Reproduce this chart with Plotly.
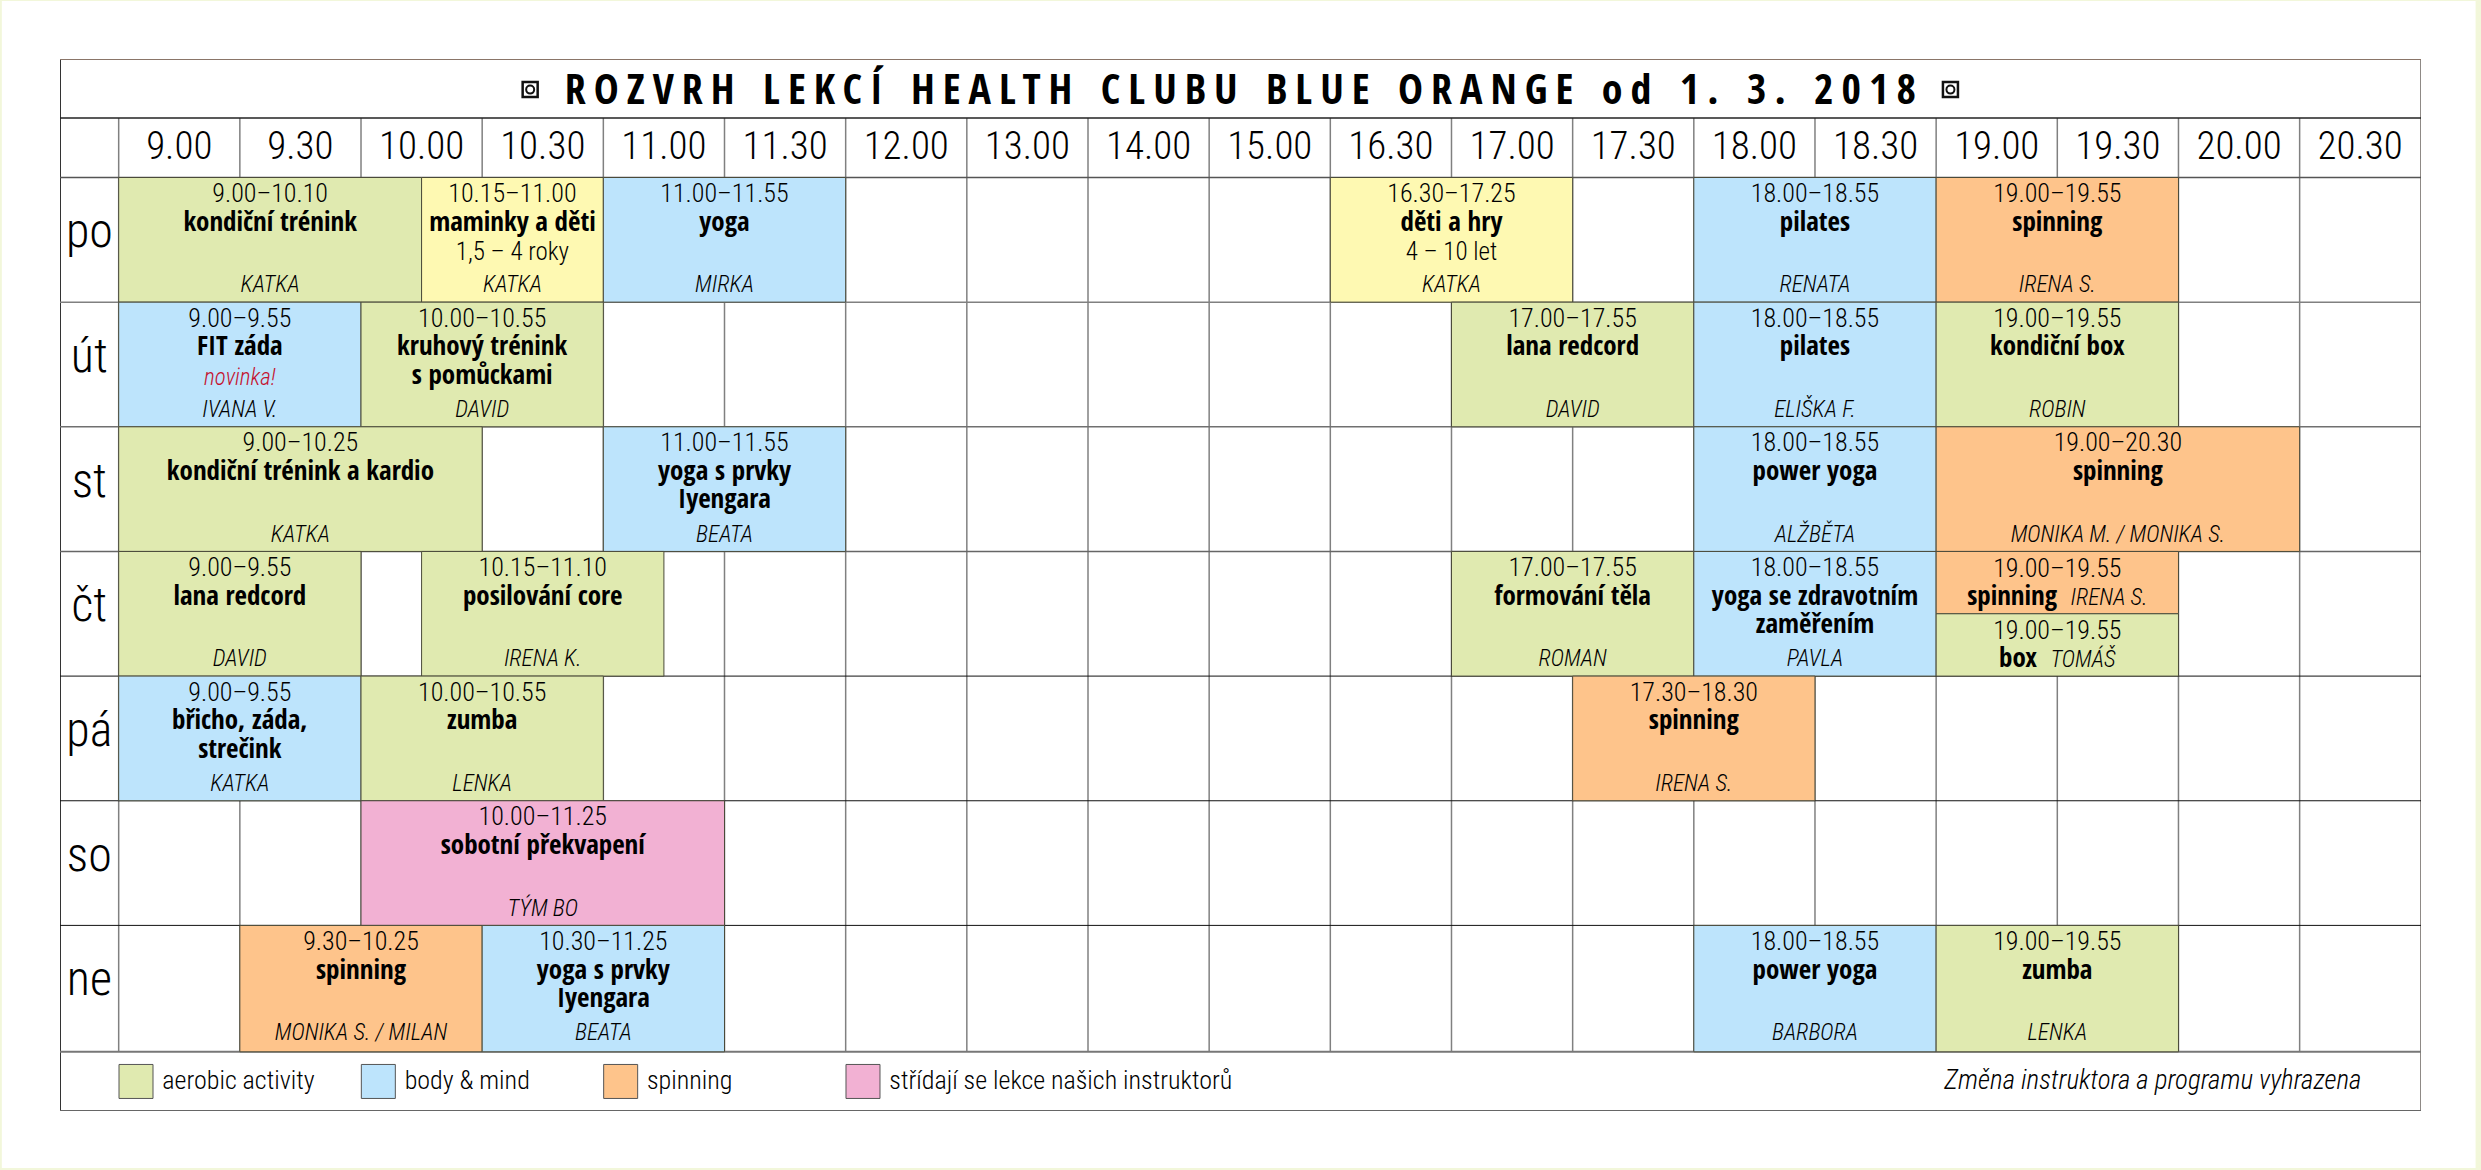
import plotly.graph_objects as go

# rozvrh: sloupce jsou casove sloty, ne linearni cas
title = 'ROZVRH LEKCÍ HEALTH CLUBU BLUE ORANGE od 1. 3. 2018'
slots = ['9.00', '9.30', '10.00', '10.30', '11.00', '11.30', '12.00', '13.00', '14.00', '15.00',
         '16.30', '17.00', '17.30', '18.00', '18.30', '19.00', '19.30', '20.00', '20.30']
days = ['po', 'út', 'st', 'čt', 'pá', 'so', 'ne']

lesson_day = [0, 0, 0, 0, 0, 0,
              1, 1, 1, 1, 1,
              2, 2, 2, 2,
              3, 3, 3, 3,
              4, 4, 4,
              5,
              6, 6, 6, 6]
lesson_start = [0, 2.5, 4, 10, 13, 15,
                0, 2, 11, 13, 15,
                0, 4, 13, 15,
                0, 2.5, 11, 13,
                0, 2, 12,
                2,
                1, 3, 13, 15]
lesson_span = [2.5, 1.5, 2, 2, 2, 2,
               2, 2, 2, 2, 2,
               3, 2, 2, 3,
               2, 2, 2, 2,
               2, 2, 2,
               3,
               2, 2, 2, 2]
lesson_kind = ['aerobic', 'kids', 'mind', 'kids', 'mind', 'spin',
               'mind', 'aerobic', 'aerobic', 'mind', 'aerobic',
               'aerobic', 'mind', 'mind', 'spin',
               'aerobic', 'aerobic', 'aerobic', 'mind',
               'mind', 'aerobic', 'spin',
               'team',
               'spin', 'mind', 'mind', 'aerobic']
lesson_time = ['9.00–10.10', '10.15–11.00', '11.00–11.55', '16.30–17.25', '18.00–18.55', '19.00–19.55',
               '9.00–9.55', '10.00–10.55', '17.00–17.55', '18.00–18.55', '19.00–19.55',
               '9.00–10.25', '11.00–11.55', '18.00–18.55', '19.00–20.30',
               '9.00–9.55', '10.15–11.10', '17.00–17.55', '18.00–18.55',
               '9.00–9.55', '10.00–10.55', '17.30–18.30',
               '10.00–11.25',
               '9.30–10.25', '10.30–11.25', '18.00–18.55', '19.00–19.55']
lesson_name = ['kondiční trénink', 'maminky a děti', 'yoga', 'děti a hry', 'pilates', 'spinning',
               'FIT záda', 'kruhový trénink', 'lana redcord', 'pilates', 'kondiční box',
               'kondiční trénink a kardio', 'yoga s prvky', 'power yoga', 'spinning',
               'lana redcord', 'posilování core', 'formování těla', 'yoga se zdravotním',
               'břicho, záda,', 'zumba', 'spinning',
               'sobotní překvapení',
               'spinning', 'yoga s prvky', 'power yoga', 'zumba']
lesson_name2 = ['', '', '', '', '', '',
                '', 's pomůckami', '', '', '',
                '', 'Iyengara', '', '',
                '', '', '', 'zaměřením',
                'strečink', '', '',
                '',
                '', 'Iyengara', '', '']
lesson_note = ['', '1,5 – 4 roky', '', '4 – 10 let', '', '',
               '', '', '', '', '',
               '', '', '', '',
               '', '', '', '',
               '', '', '',
               '',
               '', '', '', '']
lesson_coach = ['KATKA', 'KATKA', 'MIRKA', 'KATKA', 'RENATA', 'IRENA S.',
                'IVANA V.', 'DAVID', 'DAVID', 'ELIŠKA F.', 'ROBIN',
                'KATKA', 'BEATA', 'ALŽBĚTA', 'MONIKA M. / MONIKA S.',
                'DAVID', 'IRENA K.', 'ROMAN', 'PAVLA',
                'KATKA', 'LENKA', 'IRENA S.',
                'TÝM BO',
                'MONIKA S. / MILAN', 'BEATA', 'BARBORA', 'LENKA']

# ctvrtek 19.00 - dve lekce nad sebou v jednom slotu
half_day = [3, 3]
half_part = [0, 1]
half_start = [15, 15]
half_span = [2, 2]
half_kind = ['spin', 'aerobic']
half_time = ['19.00–19.55', '19.00–19.55']
half_name = ['spinning', 'box']
half_coach = ['IRENA S.', 'TOMÁŠ']

legend_labels = ['aerobic activity', 'body & mind', 'spinning', 'střídají se lekce našich instruktorů']
legend_kinds = ['aerobic', 'mind', 'spin', 'team']
legend_slots = [0, 2, 4, 6]
legend_note = 'Změna instruktora a programu vyhrazena'

colors = {'aerobic': '#E0EAB0', 'kids': '#FEF9B2', 'mind': '#BDE4FC', 'spin': '#FEC48B', 'team': '#F2B1D3'}
row_line_colors = ['#555555', '#808080', '#707070', '#666666', '#111111', '#111111', '#111111', '#777777']
row_line_widths = [1.5, 1.5, 1.5, 1.5, 1, 1, 1, 2]

W, H = 2481, 1170
LEFT, RIGHT, TOP, BOTTOM = 59.7, 2421.4, 59.0, 1111.0
COL, ROW = 121.2, 124.65
GRID_X, GRID_Y = 118.4, 177.5
NARROW = 'Roboto Condensed'
BOLD = 'Open Sans Condensed'

x_min = (LEFT - GRID_X) / COL
x_max = (RIGHT - GRID_X) / COL
y_min = (TOP - GRID_Y) / ROW
y_max = (BOTTOM - GRID_Y) / ROW
y_head = (118.0 - GRID_Y) / ROW
# posledni radek je o kousek vyssi
row_edges = [0, 1, 2, 3, 4, 5, 6, 7.014]


def mids(starts, spans):
    return [s + w / 2 for s, w in zip(starts, spans)]


def addText(fig, x, y, text, size, color='#000000', weight=None, style=None, pos='middle center', family=NARROW):
    fig.add_trace(go.Scatter(x=x, y=y, text=text, mode='text', textposition=pos, hoverinfo='skip',
                             textfont=dict(family=family, size=size, color=color, weight=weight, style=style)))


fig = go.Figure()

# lekce
fig.add_trace(go.Bar(orientation='h', base=lesson_start, x=lesson_span,
                     y=[(row_edges[d] + row_edges[d + 1]) / 2 for d in lesson_day],
                     width=[row_edges[d + 1] - row_edges[d] for d in lesson_day],
                     marker=dict(color=[colors[k] for k in lesson_kind], line=dict(color='#4a4a3a', width=1)),
                     hoverinfo='skip'))
fig.add_trace(go.Bar(orientation='h', base=half_start, x=half_span,
                     y=[d + 0.25 + 0.5 * p for d, p in zip(half_day, half_part)], width=0.5,
                     marker=dict(color=[colors[k] for k in half_kind], line=dict(color='#4a4a3a', width=1)),
                     hoverinfo='skip'))

lesson_mid = mids(lesson_start, lesson_span)
addText(fig, lesson_mid, [d + 0.145 for d in lesson_day], lesson_time, 26, weight=300)
addText(fig, lesson_mid, [d + 0.372 for d in lesson_day], lesson_name, 27, weight='bold', family=BOLD)
addText(fig, lesson_mid, [d + 0.60 for d in lesson_day], lesson_name2, 27, weight='bold', family=BOLD)
addText(fig, lesson_mid, [d + 0.61 for d in lesson_day], lesson_note, 25, weight=300)
addText(fig, lesson_mid, [d + 0.875 for d in lesson_day], lesson_coach, 23, style='italic', weight=300)
addText(fig, [1], [1.615], ['novinka!'], 23, color='#C4122F', style='italic', weight=300)

half_mid = mids(half_start, half_span)
addText(fig, half_mid, [d + 0.15 + 0.5 * p for d, p in zip(half_day, half_part)], half_time, 26, weight=300)
addText(fig, half_mid, [d + 0.372 + 0.5 * p for d, p in zip(half_day, half_part)],
        ['{}  <span style="font-family:{};font-weight:300;font-style:italic;font-size:23px">{}</span>'.format(n, NARROW, c)
         for n, c in zip(half_name, half_coach)], 27, weight='bold', family=BOLD)

# hlavicka
addText(fig, [i + 0.5 for i in range(len(slots))], [-0.23] * len(slots), slots, 39, weight=300)
addText(fig, [x_min / 2] * len(days), [d + 0.465 for d in range(len(days))], days, 48, weight=300)
addText(fig, [9.29], [-0.673], [title], 42, color='#000000', weight='bold', family=BOLD)

# ikonky vedle nazvu
icon_x = [3.396, 15.118]
fig.add_trace(go.Scatter(x=icon_x, y=[-0.705, -0.705], mode='markers', hoverinfo='skip',
                         marker=dict(symbol='square-open', size=15, color='#111111', line=dict(width=2.5, color='#111111'))))
fig.add_trace(go.Scatter(x=icon_x, y=[-0.705, -0.705], mode='markers', hoverinfo='skip',
                         marker=dict(symbol='circle-open', size=8, color='#111111', line=dict(width=2, color='#111111'))))

# legenda
legend_y = [7.252] * len(legend_labels)
fig.add_trace(go.Scatter(x=[s + 0.143 for s in legend_slots], y=legend_y, mode='markers', hoverinfo='skip',
                         marker=dict(symbol='square', size=34, color=[colors[k] for k in legend_kinds],
                                     line=dict(color='#555555', width=1))))
addText(fig, [s + 0.36 for s in legend_slots], [7.262] * len(legend_labels), legend_labels, 26, pos='middle right', weight=300)
addText(fig, [18.51], [7.262], [legend_note], 27, style='italic', pos='middle left', weight=300)

# mrizka
shapes = [dict(type='rect', xref='paper', yref='paper', layer='below', line_width=0, fillcolor='white',
               x0=(1.5 - LEFT) / (RIGHT - LEFT), x1=(2476 - LEFT) / (RIGHT - LEFT),
               y0=1 - (1168 - TOP) / (BOTTOM - TOP), y1=1 - (1 - TOP) / (BOTTOM - TOP))]
for i in range(0, len(slots) + 1):
    shapes.append(dict(type='line', layer='below', x0=i, x1=i, y0=y_head, y1=row_edges[-1],
                       line=dict(color='#808080', width=1.5)))
shapes.append(dict(type='line', layer='below', x0=x_min, x1=x_min, y0=y_min, y1=y_max, line=dict(color='#333333', width=2)))
shapes.append(dict(type='line', layer='below', x0=x_max, x1=x_max, y0=y_min, y1=y_max, line=dict(color='#8f8a86', width=2)))
shapes.append(dict(type='line', layer='below', x0=x_min, x1=x_max, y0=y_min, y1=y_min, line=dict(color='#8a7568', width=2)))
shapes.append(dict(type='line', layer='below', x0=x_min, x1=x_max, y0=y_max, y1=y_max, line=dict(color='#666666', width=2)))
shapes.append(dict(type='line', layer='below', x0=x_min, x1=x_max, y0=y_head, y1=y_head, line=dict(color='#222222', width=1.5)))
for r, c, w in zip(row_edges, row_line_colors, row_line_widths):
    shapes.append(dict(type='line', layer='below', x0=x_min, x1=x_max, y0=r, y1=r, line=dict(color=c, width=w)))

fig.update_layout(width=W, height=H, autosize=False, showlegend=False, barmode='overlay',
                  margin=dict(l=LEFT, r=W - RIGHT, t=TOP, b=H - BOTTOM, pad=0),
                  paper_bgcolor='#F2F7DA', plot_bgcolor='rgba(0,0,0,0)', shapes=shapes,
                  xaxis=dict(range=[x_min, x_max], visible=False, fixedrange=True),
                  yaxis=dict(range=[y_max, y_min], visible=False, fixedrange=True))

# prostrkany nazev - plotly letter-spacing neumi
post = """
document.body.style.margin = '0';
document.querySelectorAll('.textpoint text').forEach(function (t) {
  if (t.textContent.indexOf('ROZVRH') === 0) { t.style.letterSpacing = '8px'; t.style.wordSpacing = '2px'; }
});
"""
fig.write_html("out.html", post_script=post, config={'displayModeBar': False})
